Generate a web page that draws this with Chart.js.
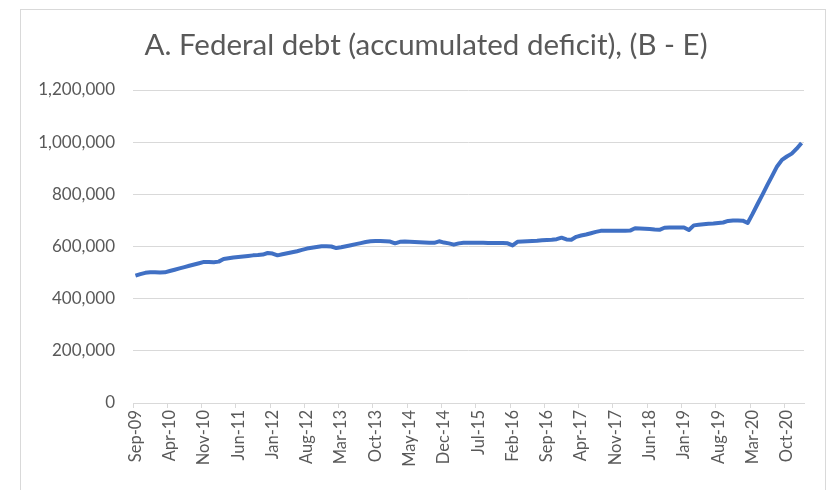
<!DOCTYPE html>
<html>
<head>
<meta charset="utf-8">
<script src="https://cdn.jsdelivr.net/npm/chart.js@4"></script>
<style>
    html, body { margin: 0; padding: 0; background: #fff; }
    .chart-wrap { position: relative; width: 833px; height: 490px; overflow: hidden; }
    .chart-frame {
        position: absolute; left: 20px; top: 9px; width: 806px; height: 500px;
        border: 1px solid #d9d9d9; box-sizing: border-box;
    }
    canvas { position: absolute; left: 0; top: 0; }
</style>
</head>
<body>
<div class="chart-wrap">
    <div class="chart-frame"></div>
    <canvas id="debtChart" width="833" height="490"></canvas>
</div>
<script>
/* ============================
   Federal debt line chart
   ============================ */

const MONTH_ABBR = ['Jan', 'Feb', 'Mar', 'Apr', 'May', 'Jun', 'Jul', 'Aug', 'Sep', 'Oct', 'Nov', 'Dec'];
const FIRST_YEAR = 2009;
const FIRST_MONTH = 8; // Sep

// Accumulated deficit, monthly, Sep-09 .. Jan-21
const debt = [
    488000, 494000, 499000, 501000, 501000, 500000, 501000, 506000, 511000, 516000,
    521000, 526000, 531000, 536000, 541000, 541000, 540000, 542000, 552000, 555000,
    558000, 560000, 562000, 564000, 566000, 567000, 569000, 575000, 573000, 566000,
    570000, 574000, 578000, 582000, 587000, 592000, 595000, 598000, 601000, 601000,
    600000, 594000, 597000, 601000, 605000, 609000, 613000, 617000, 620000, 621000,
    621000, 620000, 619000, 612000, 618000, 619000, 618000, 617000, 616000, 615000,
    614000, 614000, 620000, 615000, 612000, 607000, 612000, 614000, 614000, 614000,
    614000, 614000, 613000, 613000, 613000, 613000, 612000, 604000, 618000, 619000,
    620000, 621000, 622000, 624000, 625000, 626000, 628000, 634000, 627000, 626000,
    637000, 642000, 646000, 651000, 656000, 660000, 660000, 660000, 660000, 660000,
    660000, 661000, 670000, 669000, 668000, 667000, 665000, 664000, 672000, 673000,
    673000, 673000, 673000, 663000, 681000, 683000, 685000, 687000, 688000, 690000,
    692000, 698000, 700000, 700000, 699000, 690000, 725000, 762000, 798000, 835000,
    871000, 907000, 932000, 945000, 956000, 975000, 997000
];

// Category labels that get printed under the axis
const shownMonths = [
    'Sep-09', 'Apr-10', 'Nov-10', 'Jun-11', 'Jan-12', 'Aug-12', 'Mar-13', 'Oct-13',
    'May-14', 'Dec-14', 'Jul-15', 'Feb-16', 'Sep-16', 'Apr-17', 'Nov-17', 'Jun-18',
    'Jan-19', 'Aug-19', 'Mar-20', 'Oct-20'
];

const yTicks = { min: 0, max: 1200000, step: 200000 };

const TITLE = 'A. Federal debt (accumulated deficit), (B - E)';
const TEXT = '#595959';
const GRID = '#d9d9d9';
const LINE = '#4070c4';
const FONT = 'Lato, "Open Sans", sans-serif';

const months = debt.map((_, i) => {
    const m = FIRST_MONTH + i;
    const yy = String((FIRST_YEAR + Math.floor(m / 12)) % 100).padStart(2, '0');
    return `${MONTH_ABBR[m % 12]}-${yy}`;
});

// Title sits centred over the frame, not over the canvas box
const frameTitle = {
    id: 'frameTitle',
    afterDraw(chart) {
        const ctx = chart.ctx;
        ctx.save();
        ctx.fillStyle = TEXT;
        ctx.font = `29.5px ${FONT}`;
        ctx.textAlign = 'center';
        ctx.textBaseline = 'middle';
        ctx.fillText(TITLE, 426, 45);
        ctx.restore();
    }
};

new Chart(document.getElementById('debtChart'), {
    type: 'line',
    data: {
        labels: months,
        datasets: [{
            data: debt,
            borderColor: LINE,
            borderWidth: 4,
            borderJoinStyle: 'round',
            pointRadius: 0,
            tension: 0,
            fill: false
        }]
    },
    options: {
        responsive: false,
        animation: false,
        layout: { padding: { left: 0, right: 29, top: 90, bottom: 0 } },
        plugins: {
            legend: { display: false },
            tooltip: { enabled: false },
            title: { display: false }
        },
        scales: {
            x: {
                offset: true,
                afterFit: s => { s.height = 87; },
                grid: {
                    offset: true,
                    drawOnChartArea: false,
                    tickLength: 5,
                    color: ctx => shownMonths.includes(months[ctx.index]) ? GRID : 'rgba(0,0,0,0)'
                },
                border: { display: true, color: GRID },
                ticks: {
                    autoSkip: false,
                    minRotation: 90,
                    maxRotation: 90,
                    padding: 2,
                    color: TEXT,
                    font: { family: FONT, size: 16.5 },
                    callback: (v, i) => shownMonths.includes(months[i]) ? months[i] : ''
                }
            },
            y: {
                min: yTicks.min,
                max: yTicks.max,
                afterFit: s => { s.width = 133; },
                grid: { color: GRID, drawTicks: false },
                border: { display: false },
                ticks: {
                    stepSize: yTicks.step,
                    padding: 18,
                    color: TEXT,
                    font: { family: FONT, size: 17 },
                    callback: v => v.toLocaleString('en-US')
                }
            }
        }
    },
    plugins: [frameTitle]
});
</script>
</body>
</html>
